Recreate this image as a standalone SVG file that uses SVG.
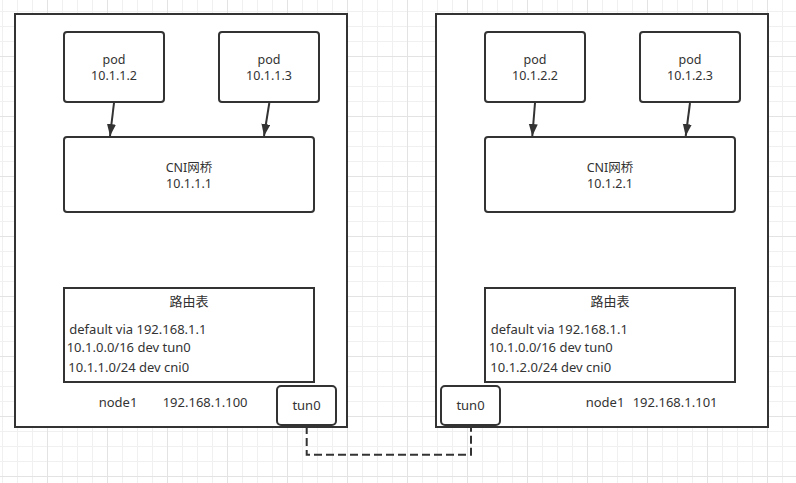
<svg xmlns="http://www.w3.org/2000/svg" width="796" height="483" viewBox="0 0 796 483">
<style>
.host{fill:#fff;stroke:#333;stroke-width:2}
.box{fill:#fff;stroke:#333;stroke-width:2}
.tbl{fill:#fff;stroke:#333;stroke-width:2}
text{font-family:"Noto Sans","Noto Sans CJK SC",sans-serif;fill:#333}
.c{text-anchor:middle;font-size:12.5px}
.t{font-size:13px}
.tc{font-size:13px;text-anchor:middle}
.arrow{stroke:#333;stroke-width:2;fill:none;marker-end:url(#ah)}
.dash{stroke:#333;stroke-width:2;fill:none;stroke-dasharray:8 4}
</style>
<defs>
<marker id="ah" markerUnits="userSpaceOnUse" markerWidth="13" markerHeight="10" refX="12" refY="4.5" orient="auto">
<path d="M0,0 L12,4.5 L0,9 Z" fill="#333"/>
</marker>
<pattern id="grid" patternUnits="userSpaceOnUse" x="47" y="56" width="60" height="60">
<path d="M15.5,0V60M30.5,0V60M45.5,0V60M0,15.5H60M0,30.5H60M0,45.5H60" stroke="#f0f0f0" stroke-width="1"/>
<path d="M0.5,0V60M0,0.5H60" stroke="#e3e3e3" stroke-width="1"/>
</pattern>
</defs>
<rect width="796" height="483" fill="#fff"/>
<rect width="796" height="483" fill="url(#grid)"/>

<g id="host-node1-left">
<rect class="host" x="15" y="14" width="332" height="413"/>
<text class="t" x="98.7" y="407">node1</text>
<text class="t" x="162.7" y="407">192.168.1.100</text>
</g>
<g id="host-node1-right">
<rect class="host" x="436" y="14" width="332" height="413"/>
<text class="t" x="585.7" y="407">node1</text>
<text class="t" x="632.7" y="407">192.168.1.101</text>
</g>

<g id="pod-10-1-1-2">
<rect class="box" x="64" y="32" width="100" height="70" rx="3"/>
<text class="c" x="114" y="64">pod</text>
<text class="c" x="114" y="80">10.1.1.2</text>
</g>
<g id="pod-10-1-1-3">
<rect class="box" x="219" y="32" width="100" height="70" rx="3"/>
<text class="c" x="269" y="64">pod</text>
<text class="c" x="269" y="80">10.1.1.3</text>
</g>
<g id="cni-10-1-1-1">
<rect class="box" x="64" y="137" width="250" height="75" rx="3"/>
<text class="c" x="189" y="171.7">CNI网桥</text>
<text class="c" x="189" y="187.7">10.1.1.1</text>
</g>
<g id="route-left">
<rect class="tbl" x="64" y="288" width="250" height="94"/>
<text class="tc" x="189" y="306">路由表</text>
<text class="t" x="69.3" y="334.3">default via 192.168.1.1</text>
<text class="t" x="66.7" y="351.7">10.1.0.0/16 dev tun0</text>
<text class="t" x="68.3" y="372">10.1.1.0/24 dev cni0</text>
</g>
<g id="tun0-left">
<rect class="box" x="277" y="386" width="59" height="39" rx="4"/>
<text class="tc" x="306.5" y="410">tun0</text>
</g>

<g id="pod-10-1-2-2">
<rect class="box" x="485" y="32" width="100" height="70" rx="3"/>
<text class="c" x="535" y="64">pod</text>
<text class="c" x="535" y="80">10.1.2.2</text>
</g>
<g id="pod-10-1-2-3">
<rect class="box" x="640" y="32" width="100" height="70" rx="3"/>
<text class="c" x="690" y="64">pod</text>
<text class="c" x="690" y="80">10.1.2.3</text>
</g>
<g id="cni-10-1-2-1">
<rect class="box" x="485" y="137" width="250" height="75" rx="3"/>
<text class="c" x="610" y="171.7">CNI网桥</text>
<text class="c" x="610" y="187.7">10.1.2.1</text>
</g>
<g id="route-right">
<rect class="tbl" x="485" y="288" width="250" height="94"/>
<text class="tc" x="610" y="306">路由表</text>
<text class="t" x="490.7" y="334.3">default via 192.168.1.1</text>
<text class="t" x="488.7" y="351.7">10.1.0.0/16 dev tun0</text>
<text class="t" x="490.3" y="372">10.1.2.0/24 dev cni0</text>
</g>
<g id="tun0-right">
<rect class="box" x="441" y="386" width="59" height="39" rx="4"/>
<text class="tc" x="470.5" y="410">tun0</text>
</g>

<g id="connectors">
<path class="arrow" d="M114,103 L110,136"/>
<path class="arrow" d="M269.3,103 L264,136"/>
<path class="arrow" d="M535,103 L532.3,136"/>
<path class="arrow" d="M690,103 L685.7,136"/>
<path class="dash" d="M306.7,426 V454.7 H471 V426"/>
</g>
</svg>
